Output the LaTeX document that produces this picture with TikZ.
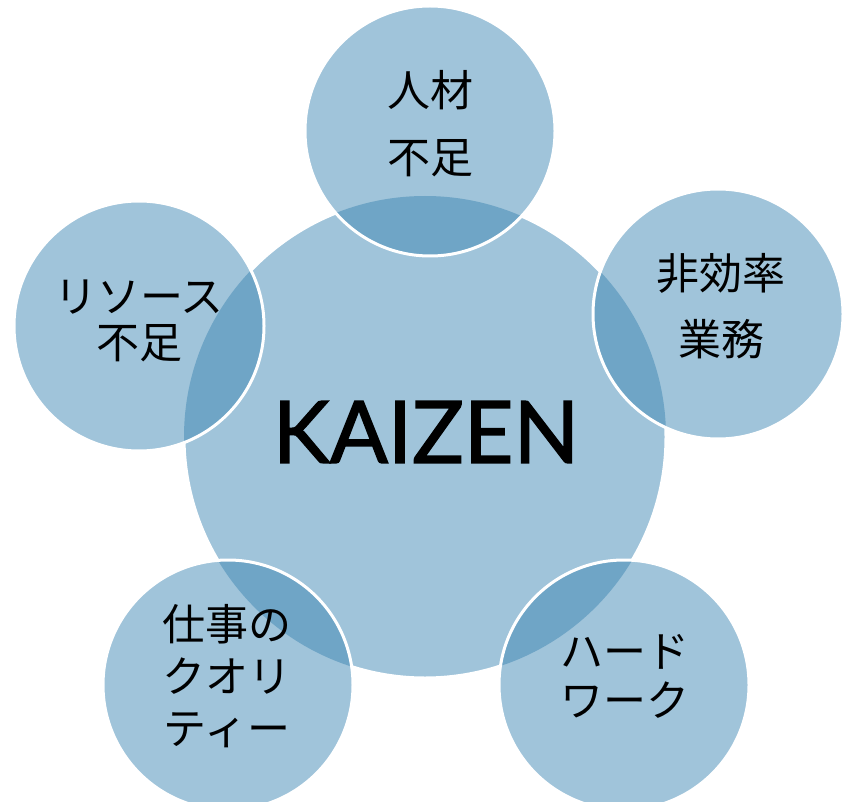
\documentclass[tikz,border=0pt]{standalone}
\usepackage{fontspec}
\newfontfamily\jpfont{Noto Sans CJK JP}
\newfontfamily\kzfont[FakeBold=1.6]{Lato}
\definecolor{cfill}{HTML}{A0C4DA}
\definecolor{cdark}{HTML}{6FA5C6}
\tikzset{
  ring/.style={white, line width=3pt},
  jptext/.style={font=\jpfont\fontsize{43}{#1}\selectfont, align=center, text=black, inner sep=0pt},
}
\begin{document}
\begin{tikzpicture}[x=1pt,y=-1pt]
\useasboundingbox (0,0) rectangle (843,802);
\clip (0,0) rectangle (843,802);
\coordinate (c) at (425,437);
\coordinate (t) at (430,131);
\coordinate (r) at (718,314);
\coordinate (l) at (139,326);
\coordinate (bl) at (228,685);
\coordinate (br) at (624,685);
% central circle
\fill[cfill] (c) circle (241pt);
\draw[ring] (c) circle (241pt);
% outer circles
\foreach \p in {t,r,l,bl,br}{
  \fill[cfill] (\p) circle (125pt);
  \begin{scope}
    \clip (c) circle (241pt);
    \fill[cdark] (\p) circle (125pt);
  \end{scope}
  \draw[ring] (\p) circle (125pt);
}
% texts
\node[font=\kzfont\fontsize{86}{100}\selectfont, inner sep=0pt] (kaizen) at (426,432) {KAIZEN};
\node[jptext=67] (tt) at (430,124) {人材\\不足};
\node[jptext=66] (rt) at (721,306) {非効率\\業務};
\node[jptext=46] (lt) at (139,321) {リソース\\不足};
\node[jptext=52] (blt) at (227,676) {仕事の\\クオリ\\ティー};
\node[jptext=49] (brt) at (625,676) {ハード\\ワーク};
\end{tikzpicture}
\end{document}
